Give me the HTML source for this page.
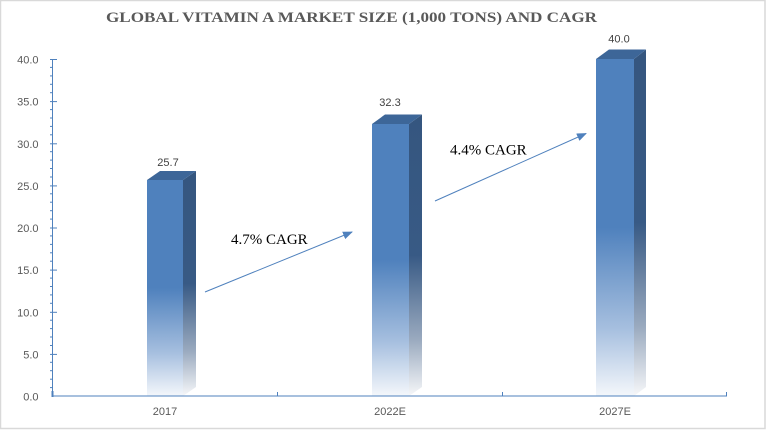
<!DOCTYPE html>
<html>
<head>
<meta charset="utf-8">
<style>
  html,body{margin:0;padding:0;background:#fff;}
  svg{display:block;}
</style>
</head>
<body>
<svg width="766" height="430" viewBox="0 0 766 430" xmlns="http://www.w3.org/2000/svg">
  <defs>
    <linearGradient id="gf" x1="0" y1="0" x2="0" y2="1">
      <stop offset="0" stop-color="#4F81BD"/>
      <stop offset="0.5" stop-color="#4F81BD"/>
      <stop offset="0.8" stop-color="#A6BFDF"/>
      <stop offset="1" stop-color="#F4F7FB"/>
    </linearGradient>
    <linearGradient id="gs" x1="0" y1="0" x2="0" y2="1">
      <stop offset="0" stop-color="#35567F"/>
      <stop offset="0.5" stop-color="#385A85"/>
      <stop offset="0.8" stop-color="#9AAABF"/>
      <stop offset="1" stop-color="#F6F7F9"/>
    </linearGradient>
    <marker id="ah" markerWidth="10" markerHeight="8" refX="9" refY="4" orient="auto" markerUnits="userSpaceOnUse">
      <path d="M0,0 L10,4 L0,8 Z" fill="#4F81BD"/>
    </marker>
  </defs>

  <!-- outer border -->
  <rect x="0.5" y="0.5" width="764.5" height="428" fill="#fff" stroke="#D9D9D9" stroke-width="1.5"/>

  <!-- title -->
  <text x="106" y="22" font-family="Liberation Serif, serif" font-weight="bold" font-size="15" fill="#595959" textLength="491" lengthAdjust="spacingAndGlyphs">GLOBAL VITAMIN A MARKET SIZE (1,000 TONS) AND CAGR</text>

  <!-- y axis -->
  <g stroke="#4F81BD" stroke-width="1">
    <line x1="52.5" y1="59" x2="52.5" y2="397"/>
    <!-- minor ticks -->
    <g id="minor">
      <line x1="50" y1="67.4" x2="53" y2="67.4"/><line x1="50" y1="75.9" x2="53" y2="75.9"/><line x1="50" y1="84.3" x2="53" y2="84.3"/><line x1="50" y1="92.7" x2="53" y2="92.7"/>
      <line x1="50" y1="109.6" x2="53" y2="109.6"/><line x1="50" y1="118" x2="53" y2="118"/><line x1="50" y1="126.4" x2="53" y2="126.4"/><line x1="50" y1="134.8" x2="53" y2="134.8"/>
      <line x1="50" y1="151.7" x2="53" y2="151.7"/><line x1="50" y1="160.1" x2="53" y2="160.1"/><line x1="50" y1="168.5" x2="53" y2="168.5"/><line x1="50" y1="177" x2="53" y2="177"/>
      <line x1="50" y1="193.8" x2="53" y2="193.8"/><line x1="50" y1="202.2" x2="53" y2="202.2"/><line x1="50" y1="210.7" x2="53" y2="210.7"/><line x1="50" y1="219.1" x2="53" y2="219.1"/>
      <line x1="50" y1="235.9" x2="53" y2="235.9"/><line x1="50" y1="244.4" x2="53" y2="244.4"/><line x1="50" y1="252.8" x2="53" y2="252.8"/><line x1="50" y1="261.2" x2="53" y2="261.2"/>
      <line x1="50" y1="278.1" x2="53" y2="278.1"/><line x1="50" y1="286.5" x2="53" y2="286.5"/><line x1="50" y1="294.9" x2="53" y2="294.9"/><line x1="50" y1="303.3" x2="53" y2="303.3"/>
      <line x1="50" y1="320.2" x2="53" y2="320.2"/><line x1="50" y1="328.6" x2="53" y2="328.6"/><line x1="50" y1="337" x2="53" y2="337"/><line x1="50" y1="345.5" x2="53" y2="345.5"/>
      <line x1="50" y1="362.3" x2="53" y2="362.3"/><line x1="50" y1="370.7" x2="53" y2="370.7"/><line x1="50" y1="379.2" x2="53" y2="379.2"/><line x1="50" y1="387.6" x2="53" y2="387.6"/>
    </g>
    <!-- major ticks -->
    <line x1="50" y1="59.5" x2="57" y2="59.5"/>
    <line x1="50" y1="101.6" x2="57" y2="101.6"/>
    <line x1="50" y1="143.8" x2="57" y2="143.8"/>
    <line x1="50" y1="185.9" x2="57" y2="185.9"/>
    <line x1="50" y1="228" x2="57" y2="228"/>
    <line x1="50" y1="270.1" x2="57" y2="270.1"/>
    <line x1="50" y1="312.3" x2="57" y2="312.3"/>
    <line x1="50" y1="354.4" x2="57" y2="354.4"/>
  </g>

  <!-- y labels -->
  <g font-family="Liberation Sans, sans-serif" font-size="11" fill="#595959" text-anchor="end">
    <text x="38.5" y="63.5">40.0</text>
    <text x="38.5" y="105.6">35.0</text>
    <text x="38.5" y="147.8">30.0</text>
    <text x="38.5" y="189.9">25.0</text>
    <text x="38.5" y="232">20.0</text>
    <text x="38.5" y="274.1">15.0</text>
    <text x="38.5" y="316.3">10.0</text>
    <text x="38.5" y="358.4">5.0</text>
    <text x="38.5" y="400.5">0.0</text>
  </g>

  <!-- bars -->
  <!-- bar 1: 25.7 -->
  <polygon points="183,180 196,171 196,387 183,396" fill="url(#gs)"/>
  <polygon points="147,180 160,171 196,171 183,180" fill="#3D6698"/>
  <rect x="147" y="180" width="36" height="216" fill="url(#gf)"/>
  <!-- bar 2: 32.3 -->
  <polygon points="409,124 422,114.5 422,387 409,396" fill="url(#gs)"/>
  <polygon points="372,124 385,114.5 422,114.5 409,124" fill="#3D6698"/>
  <rect x="372" y="124" width="37" height="272" fill="url(#gf)"/>
  <!-- bar 3: 40.0 -->
  <polygon points="634,59 646,49.5 646,387 634,396" fill="url(#gs)"/>
  <polygon points="596,59 609,49.5 646,49.5 634,59" fill="#3D6698"/>
  <rect x="596" y="59" width="38" height="337" fill="url(#gf)"/>

  <!-- x axis -->
  <g stroke="#4F81BD" stroke-width="1">
    <line x1="52" y1="396" x2="727" y2="396"/>
    <line x1="277.5" y1="392" x2="277.5" y2="396"/>
    <line x1="502.5" y1="392" x2="502.5" y2="396"/>
    <line x1="726.5" y1="392" x2="726.5" y2="396"/>
  </g>
  <rect x="51.5" y="391" width="2" height="6" fill="#4F81BD"/>

  <!-- x labels -->
  <g font-family="Liberation Sans, sans-serif" font-size="11" fill="#595959" text-anchor="middle">
    <text x="165" y="415">2017</text>
    <text x="390" y="415">2022E</text>
    <text x="615" y="415">2027E</text>
  </g>

  <!-- data labels -->
  <g font-family="Liberation Sans, sans-serif" font-size="11" fill="#404040" text-anchor="middle">
    <text x="168" y="166">25.7</text>
    <text x="390" y="106">32.3</text>
    <text x="619" y="42.5">40.0</text>
  </g>

  <!-- CAGR arrows -->
  <line x1="205" y1="292" x2="352" y2="232" stroke="#4F81BD" stroke-width="1" marker-end="url(#ah)"/>
  <line x1="435" y1="201" x2="586" y2="133.5" stroke="#4F81BD" stroke-width="1" marker-end="url(#ah)"/>
  <g font-family="Liberation Serif, serif" font-size="15" fill="#000">
    <text x="231" y="244">4.7% CAGR</text>
    <text x="450" y="154.5">4.4% CAGR</text>
  </g>
</svg>
</body>
</html>
